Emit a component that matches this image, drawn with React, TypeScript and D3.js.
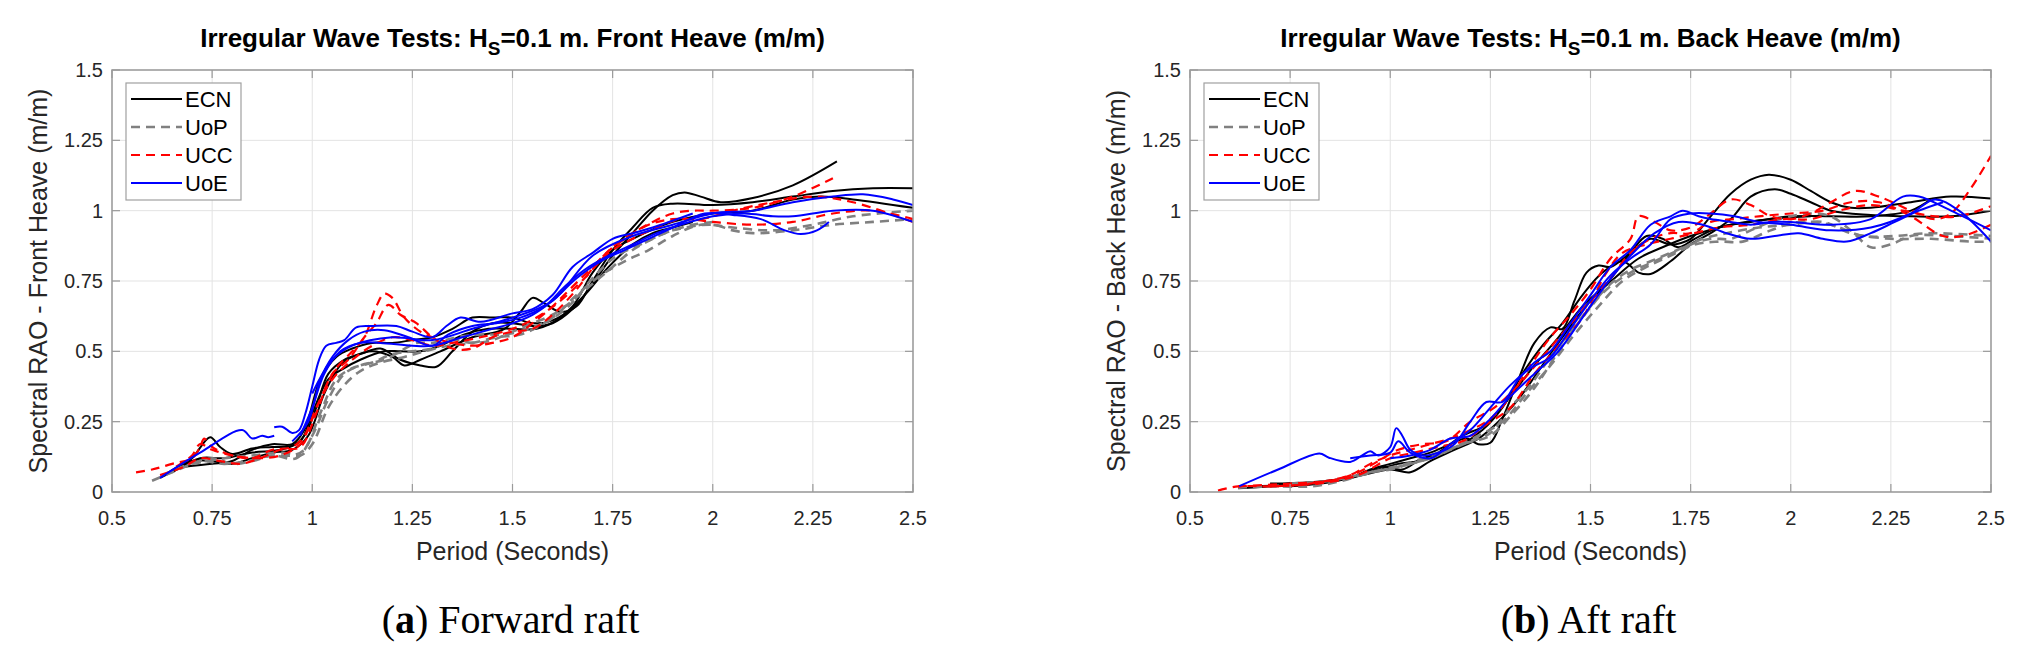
import React from "react"
import * as d3 from "d3"

type Pt = [number, number]

// axis ticks and legend
const xTicks = [0.5, 0.75, 1, 1.25, 1.5, 1.75, 2, 2.25, 2.5]
const yTicks = [0, 0.25, 0.5, 0.75, 1, 1.25, 1.5]
const legendLabels = ["ECN", "UoP", "UCC", "UoE"]

// Front heave (forward raft), one array per test run
const frontECN: Pt[][] = [
  [[0.62,0.05],[0.66,0.08],[0.7,0.12],[0.745,0.195],[0.77,0.16],[0.8,0.135],[0.85,0.155],[0.9,0.16],[0.95,0.165],[0.98,0.2],[1.01,0.3],[1.04,0.42],[1.08,0.47],[1.12,0.49],[1.17,0.51],[1.22,0.47],[1.27,0.45],[1.31,0.445],[1.35,0.5],[1.4,0.57],[1.45,0.6],[1.5,0.6],[1.55,0.59],[1.6,0.6],[1.65,0.65],[1.7,0.74],[1.75,0.84],[1.8,0.92],[1.85,1.0],[1.9,1.055],[1.93,1.065],[1.97,1.05],[2.02,1.03],[2.1,1.045],[2.2,1.09],[2.31,1.175]],
  [[0.63,0.06],[0.7,0.11],[0.75,0.11],[0.8,0.1],[0.85,0.12],[0.9,0.14],[0.95,0.15],[0.99,0.2],[1.03,0.35],[1.07,0.45],[1.1,0.48],[1.15,0.5],[1.2,0.48],[1.23,0.45],[1.27,0.47],[1.32,0.5],[1.4,0.55],[1.48,0.58],[1.52,0.64],[1.55,0.69],[1.58,0.67],[1.62,0.64],[1.66,0.66],[1.7,0.75],[1.75,0.86],[1.8,0.94],[1.85,1.01],[1.9,1.025],[2.0,1.02],[2.1,1.03],[2.2,1.05],[2.3,1.07],[2.4,1.08],[2.5,1.08]],
  [[0.68,0.09],[0.75,0.1],[0.8,0.11],[0.85,0.15],[0.9,0.17],[0.95,0.17],[0.98,0.22],[1.02,0.4],[1.06,0.48],[1.1,0.51],[1.15,0.53],[1.2,0.53],[1.25,0.54],[1.3,0.55],[1.35,0.58],[1.4,0.62],[1.45,0.62],[1.5,0.62],[1.55,0.6],[1.6,0.61],[1.65,0.66],[1.7,0.78],[1.75,0.86],[1.8,0.9],[1.9,0.96],[2.0,0.99],[2.1,1.0],[2.2,1.04],[2.27,1.05],[2.35,1.04],[2.5,1.01]],
  [[0.65,0.07],[0.72,0.12],[0.78,0.12],[0.85,0.14],[0.92,0.15],[0.97,0.18],[1.0,0.28],[1.04,0.4],[1.08,0.44],[1.12,0.47],[1.18,0.5],[1.22,0.5],[1.27,0.5],[1.32,0.52],[1.38,0.56],[1.44,0.58],[1.5,0.58],[1.56,0.58],[1.62,0.62],[1.68,0.7],[1.74,0.8],[1.8,0.88],[1.85,0.92],[1.9,0.94],[1.95,0.96]],
]
const frontUoP: Pt[][] = [
  [[0.6,0.04],[0.65,0.07],[0.7,0.1],[0.75,0.12],[0.8,0.1],[0.85,0.11],[0.9,0.13],[0.95,0.13],[0.98,0.15],[1.02,0.28],[1.06,0.4],[1.1,0.44],[1.15,0.46],[1.2,0.49],[1.25,0.5],[1.3,0.51],[1.35,0.54],[1.4,0.53],[1.45,0.54],[1.5,0.57],[1.55,0.6],[1.6,0.63],[1.65,0.68],[1.7,0.74],[1.75,0.8],[1.8,0.86],[1.85,0.9],[1.9,0.93],[2.0,0.95],[2.05,0.93],[2.1,0.92],[2.2,0.93],[2.3,0.95],[2.4,0.96],[2.5,0.97]],
  [[0.66,0.08],[0.72,0.11],[0.78,0.1],[0.84,0.11],[0.9,0.13],[0.96,0.12],[1.0,0.2],[1.04,0.33],[1.08,0.42],[1.12,0.45],[1.18,0.47],[1.22,0.5],[1.26,0.53],[1.3,0.53],[1.36,0.55],[1.42,0.56],[1.48,0.56],[1.54,0.58],[1.6,0.62],[1.66,0.7],[1.72,0.77],[1.78,0.82],[1.84,0.86],[1.9,0.91],[1.97,0.95],[2.05,0.94],[2.15,0.93],[2.25,0.95],[2.35,0.98],[2.5,1.0]],
  [[0.7,0.1],[0.78,0.12],[0.85,0.13],[0.92,0.14],[0.97,0.13],[1.0,0.17],[1.04,0.3],[1.08,0.38],[1.12,0.43],[1.17,0.46],[1.23,0.48],[1.28,0.5],[1.34,0.52],[1.4,0.53],[1.46,0.55],[1.52,0.56],[1.58,0.6],[1.64,0.66],[1.7,0.76],[1.76,0.84],[1.82,0.88],[1.88,0.92],[1.95,0.95],[2.0,0.96]],
]
const frontUCC: Pt[][] = [
  [[0.56,0.07],[0.6,0.08],[0.65,0.1],[0.7,0.12],[0.72,0.16],[0.73,0.19],[0.75,0.16],[0.8,0.13],[0.85,0.12],[0.9,0.15],[0.95,0.16],[0.98,0.2],[1.02,0.33],[1.06,0.44],[1.1,0.5],[1.13,0.55],[1.16,0.66],[1.18,0.705],[1.2,0.69],[1.23,0.62],[1.27,0.57],[1.3,0.55],[1.35,0.53],[1.4,0.52],[1.45,0.53],[1.5,0.55],[1.55,0.6],[1.6,0.66],[1.65,0.73],[1.7,0.8],[1.75,0.87],[1.8,0.92],[1.85,0.96],[1.9,0.99],[1.95,1.0],[2.0,1.0],[2.1,1.01],[2.2,1.05],[2.3,1.115]],
  [[0.62,0.06],[0.68,0.09],[0.72,0.12],[0.77,0.11],[0.82,0.1],[0.87,0.12],[0.92,0.15],[0.97,0.16],[1.01,0.28],[1.05,0.42],[1.09,0.47],[1.13,0.55],[1.16,0.6],[1.19,0.665],[1.22,0.63],[1.26,0.6],[1.3,0.55],[1.35,0.51],[1.4,0.51],[1.45,0.55],[1.5,0.57],[1.55,0.58],[1.6,0.63],[1.66,0.72],[1.72,0.83],[1.78,0.9],[1.84,0.95],[1.9,0.97],[1.97,0.97],[2.05,1.0],[2.15,1.03],[2.25,1.05],[2.35,1.03],[2.5,0.96]],
  [[0.66,0.09],[0.7,0.13],[0.72,0.17],[0.75,0.15],[0.8,0.13],[0.86,0.12],[0.92,0.13],[0.97,0.17],[1.01,0.3],[1.05,0.4],[1.1,0.47],[1.15,0.52],[1.2,0.55],[1.25,0.54],[1.3,0.52],[1.35,0.53],[1.42,0.55],[1.5,0.58],[1.56,0.62],[1.62,0.68],[1.68,0.76],[1.74,0.85],[1.8,0.9],[1.86,0.94],[1.92,0.97],[2.0,0.96],[2.1,0.95],[2.2,0.96],[2.3,0.99],[2.4,1.0],[2.5,0.97]],
]
const frontUoE: Pt[][] = [
  [[0.62,0.05],[0.72,0.14],[0.825,0.22],[0.85,0.19],[0.875,0.2],[0.89,0.195],[0.905,0.2]],
  [[0.905,0.23],[0.925,0.232],[0.95,0.21],[0.967,0.22],[0.983,0.28],[1.0,0.375],[1.017,0.47],[1.035,0.52],[1.06,0.53],[1.08,0.54],[1.11,0.585],[1.15,0.59],[1.21,0.59],[1.25,0.57],[1.3,0.55],[1.335,0.59],[1.37,0.62],[1.42,0.605],[1.5,0.635],[1.55,0.65],[1.6,0.7],[1.65,0.8],[1.7,0.85],[1.75,0.9],[1.8,0.92],[1.85,0.94],[1.95,0.99]],
  [[0.95,0.18],[0.99,0.25],[1.02,0.4],[1.05,0.48],[1.09,0.54],[1.13,0.57],[1.18,0.575],[1.24,0.55],[1.3,0.52],[1.34,0.56],[1.4,0.59],[1.46,0.6],[1.52,0.62],[1.58,0.66],[1.63,0.73],[1.68,0.79],[1.74,0.84],[1.8,0.88],[1.86,0.92],[1.92,0.95],[2.0,0.98],[2.08,0.99],[2.15,0.98],[2.2,0.98],[2.3,1.0],[2.4,1.0],[2.5,0.96]],
  [[0.97,0.2],[1.0,0.3],[1.03,0.42],[1.07,0.5],[1.12,0.53],[1.17,0.53],[1.25,0.52],[1.3,0.52],[1.375,0.55],[1.45,0.58],[1.5,0.6],[1.55,0.63],[1.6,0.68],[1.66,0.76],[1.72,0.82],[1.78,0.86],[1.84,0.9],[1.9,0.94],[1.98,0.99],[2.05,0.985],[2.12,0.97],[2.18,0.93],[2.22,0.917],[2.26,0.93],[2.29,0.96]],
  [[1.0,0.35],[1.05,0.47],[1.1,0.52],[1.2,0.55],[1.3,0.54],[1.4,0.58],[1.5,0.62],[1.6,0.68],[1.7,0.84],[1.8,0.91],[1.9,0.95],[2.0,0.99],[2.1,1.0],[2.2,1.03],[2.3,1.05],[2.375,1.058],[2.45,1.04],[2.5,1.02]],
]

// Back heave (aft raft)
const backECN: Pt[][] = [
  [[0.62,0.013],[0.7,0.02],[0.75,0.03],[0.8,0.03],[0.85,0.04],[0.9,0.05],[0.95,0.08],[1.0,0.1],[1.05,0.12],[1.1,0.14],[1.15,0.17],[1.19,0.19],[1.22,0.17],[1.25,0.175],[1.28,0.26],[1.32,0.4],[1.36,0.53],[1.4,0.585],[1.43,0.58],[1.46,0.68],[1.49,0.78],[1.52,0.805],[1.55,0.8],[1.6,0.85],[1.65,0.9],[1.7,0.88],[1.75,0.9],[1.8,0.98],[1.85,1.06],[1.9,1.11],[1.945,1.128],[2.0,1.11],[2.05,1.07],[2.1,1.03],[2.15,1.01],[2.2,1.01],[2.3,1.03],[2.4,1.05],[2.5,1.043]],
  [[0.65,0.02],[0.75,0.025],[0.85,0.04],[0.92,0.06],[0.98,0.09],[1.03,0.08],[1.08,0.12],[1.13,0.14],[1.18,0.17],[1.23,0.22],[1.28,0.3],[1.33,0.42],[1.38,0.52],[1.43,0.6],[1.48,0.7],[1.53,0.78],[1.58,0.82],[1.62,0.78],[1.65,0.775],[1.7,0.82],[1.75,0.88],[1.8,0.92],[1.85,0.97],[1.9,1.05],[1.96,1.076],[2.0,1.06],[2.05,1.03],[2.1,1.0],[2.2,0.985],[2.3,0.98],[2.4,0.98],[2.5,1.0]],
  [[0.7,0.03],[0.8,0.035],[0.9,0.05],[0.97,0.08],[1.02,0.1],[1.07,0.11],[1.12,0.14],[1.18,0.2],[1.24,0.24],[1.3,0.34],[1.36,0.45],[1.42,0.55],[1.48,0.66],[1.54,0.74],[1.6,0.85],[1.64,0.91],[1.68,0.9],[1.72,0.87],[1.76,0.9],[1.82,0.94],[1.9,0.96],[2.0,0.98],[2.1,0.98],[2.2,0.98],[2.3,1.0],[2.35,1.04]],
  [[0.75,0.02],[0.85,0.035],[0.93,0.06],[1.0,0.08],[1.05,0.07],[1.1,0.11],[1.16,0.15],[1.22,0.19],[1.27,0.25],[1.32,0.33],[1.38,0.45],[1.44,0.57],[1.5,0.68],[1.56,0.76],[1.62,0.83],[1.68,0.87],[1.75,0.91],[1.85,0.95],[1.95,0.97],[2.05,0.98]],
]
const backUoP: Pt[][] = [
  [[0.62,0.015],[0.7,0.02],[0.8,0.02],[0.88,0.04],[0.95,0.07],[1.0,0.08],[1.05,0.1],[1.1,0.12],[1.15,0.15],[1.2,0.18],[1.25,0.21],[1.3,0.3],[1.35,0.38],[1.4,0.48],[1.45,0.57],[1.5,0.66],[1.55,0.74],[1.6,0.79],[1.65,0.82],[1.7,0.85],[1.75,0.88],[1.8,0.9],[1.85,0.9],[1.9,0.93],[1.95,0.96],[2.0,0.98],[2.05,0.99],[2.1,0.98],[2.15,0.93],[2.2,0.87],[2.25,0.88],[2.3,0.91],[2.4,0.91],[2.5,0.9]],
  [[0.7,0.02],[0.8,0.03],[0.9,0.05],[0.98,0.08],[1.04,0.1],[1.1,0.13],[1.16,0.16],[1.22,0.2],[1.28,0.25],[1.34,0.35],[1.4,0.45],[1.46,0.56],[1.52,0.66],[1.58,0.75],[1.64,0.8],[1.7,0.84],[1.76,0.88],[1.82,0.89],[1.88,0.89],[1.95,0.93],[2.02,0.96],[2.1,0.95],[2.18,0.91],[2.26,0.91],[2.35,0.92],[2.5,0.91]],
  [[0.75,0.03],[0.85,0.04],[0.95,0.07],[1.02,0.09],[1.1,0.12],[1.18,0.17],[1.25,0.2],[1.3,0.27],[1.36,0.37],[1.42,0.5],[1.48,0.62],[1.54,0.72],[1.6,0.78],[1.66,0.82],[1.72,0.86],[1.78,0.9],[1.84,0.92],[1.92,0.94],[2.0,0.95],[2.08,0.96],[2.15,0.92],[2.25,0.9],[2.35,0.9],[2.45,0.89],[2.5,0.89]],
]
const backUCC: Pt[][] = [
  [[0.57,0.005],[0.62,0.02],[0.7,0.02],[0.8,0.03],[0.9,0.06],[0.95,0.1],[1.0,0.13],[1.05,0.15],[1.1,0.17],[1.15,0.19],[1.2,0.22],[1.25,0.26],[1.3,0.34],[1.35,0.45],[1.4,0.55],[1.45,0.63],[1.5,0.72],[1.55,0.83],[1.6,0.9],[1.62,0.98],[1.66,0.96],[1.7,0.93],[1.75,0.94],[1.8,0.99],[1.85,1.04],[1.9,1.02],[1.95,0.98],[2.0,0.97],[2.05,0.99],[2.1,1.03],[2.16,1.07],[2.22,1.05],[2.3,1.0],[2.36,0.97],[2.4,0.99],[2.45,1.08],[2.5,1.195]],
  [[0.62,0.02],[0.75,0.03],[0.85,0.04],[0.92,0.07],[0.97,0.11],[1.02,0.15],[1.08,0.17],[1.14,0.18],[1.2,0.25],[1.26,0.3],[1.32,0.38],[1.38,0.48],[1.44,0.58],[1.5,0.68],[1.55,0.76],[1.6,0.85],[1.65,0.9],[1.7,0.92],[1.75,0.92],[1.8,0.96],[1.86,0.97],[1.92,0.98],[2.0,0.99],[2.08,1.0],[2.15,1.03],[2.22,1.03],[2.3,0.98],[2.38,0.91],[2.43,0.91],[2.5,0.95]],
  [[0.7,0.02],[0.82,0.03],[0.92,0.06],[1.0,0.12],[1.06,0.14],[1.12,0.16],[1.18,0.18],[1.24,0.24],[1.3,0.3],[1.36,0.42],[1.42,0.52],[1.48,0.62],[1.54,0.78],[1.58,0.85],[1.64,0.88],[1.7,0.9],[1.76,0.92],[1.82,0.94],[1.9,0.95],[1.98,0.97],[2.05,0.97],[2.12,1.0],[2.2,1.02],[2.28,1.0],[2.36,0.98],[2.42,0.98],[2.5,1.016]],
]
const backUoE: Pt[][] = [
  [[0.623,0.021],[0.72,0.08],[0.823,0.137],[0.847,0.122],[0.9,0.107],[0.93,0.13],[0.95,0.145],[0.97,0.13],[1.0,0.16],[1.015,0.227],[1.03,0.2],[1.05,0.15],[1.08,0.13],[1.12,0.14],[1.16,0.17],[1.2,0.25],[1.24,0.32],[1.28,0.32],[1.32,0.4],[1.36,0.46],[1.4,0.5],[1.45,0.6],[1.5,0.7],[1.55,0.8],[1.6,0.86],[1.65,0.95],[1.7,0.98],[1.73,1.0],[1.77,0.98],[1.8,0.97],[1.85,0.96],[1.9,0.95],[1.95,0.96],[2.0,0.96],[2.1,0.95],[2.2,0.97],[2.28,1.05],[2.32,1.05],[2.4,1.0],[2.5,0.93]],
  [[0.9,0.12],[0.95,0.13],[1.0,0.14],[1.02,0.18],[1.05,0.14],[1.1,0.12],[1.15,0.17],[1.2,0.22],[1.25,0.3],[1.3,0.38],[1.35,0.44],[1.4,0.48],[1.45,0.58],[1.5,0.68],[1.55,0.77],[1.6,0.83],[1.65,0.88],[1.7,0.97],[1.75,0.99],[1.8,0.99],[1.86,0.98],[1.92,0.96],[2.0,0.95],[2.1,0.93],[2.2,0.94],[2.3,0.99],[2.36,1.04],[2.42,1.0],[2.5,0.89]],
  [[1.0,0.12],[1.05,0.13],[1.1,0.15],[1.15,0.19],[1.2,0.2],[1.25,0.26],[1.3,0.34],[1.36,0.42],[1.42,0.5],[1.48,0.62],[1.54,0.74],[1.6,0.84],[1.66,0.92],[1.72,0.96],[1.78,0.95],[1.84,0.92],[1.9,0.9],[1.96,0.91],[2.02,0.92],[2.08,0.9],[2.14,0.89],[2.2,0.92],[2.26,0.96],[2.32,1.0],[2.38,1.03]],
]

const SERIES_STYLE: Record<string, { color: string; dash?: string; width: number }> = {
  ECN: { color: "#000000", width: 2 },
  UoP: { color: "#808080", dash: "9,6", width: 2.6 },
  UCC: { color: "#ff0000", dash: "9,6", width: 2.2 },
  UoE: { color: "#0000ff", width: 2 },
}

const W = 801
const H = 422
const TOP = 70
const FONT = "'Liberation Sans', Arial, sans-serif"

interface PanelProps {
  left: number
  heading: string
  ylabel: string
  letter: string
  caption: string
  runs: Pt[][][]
}

function Panel({ left, heading, ylabel, letter, caption, runs }: PanelProps) {
  const x = d3.scaleLinear().domain([0.5, 2.5]).range([0, W])
  const y = d3.scaleLinear().domain([0, 1.5]).range([H, 0])
  const line = d3
    .line<Pt>()
    .x((d) => x(d[0]))
    .y((d) => y(d[1]))
    .curve(d3.curveCatmullRom.alpha(0.5))
  const tick = 8

  return (
    <g transform={`translate(${left},${TOP})`}>
      <defs>
        <clipPath id={`clip-${letter}`}>
          <rect width={W} height={H} />
        </clipPath>
      </defs>
      <rect width={W} height={H} fill="#fff" />

      {/* grid */}
      {xTicks.map((t) => (
        <line key={`gx${t}`} x1={x(t)} x2={x(t)} y1={0} y2={H} stroke="#e3e3e3" strokeWidth={1} />
      ))}
      {yTicks.map((t) => (
        <line key={`gy${t}`} x1={0} x2={W} y1={y(t)} y2={y(t)} stroke="#e3e3e3" strokeWidth={1} />
      ))}

      {/* data */}
      <g clipPath={`url(#clip-${letter})`}>
        {runs.map((group, gi) => {
          const s = SERIES_STYLE[legendLabels[gi]]
          return group.map((run, ri) => (
            <path
              key={`${gi}-${ri}`}
              d={line(run) ?? ""}
              fill="none"
              stroke={s.color}
              strokeWidth={s.width}
              strokeDasharray={s.dash}
              strokeLinejoin="round"
            />
          ))
        })}
      </g>

      {/* frame and ticks */}
      <rect width={W} height={H} fill="none" stroke="#9a9a9a" strokeWidth={1.5} />
      {xTicks.map((t) => (
        <g key={`tx${t}`} stroke="#9a9a9a" strokeWidth={1.2}>
          <line x1={x(t)} x2={x(t)} y1={H} y2={H - tick} />
          <line x1={x(t)} x2={x(t)} y1={0} y2={tick} />
        </g>
      ))}
      {yTicks.map((t) => (
        <g key={`ty${t}`} stroke="#9a9a9a" strokeWidth={1.2}>
          <line x1={0} x2={tick} y1={y(t)} y2={y(t)} />
          <line x1={W} x2={W - tick} y1={y(t)} y2={y(t)} />
        </g>
      ))}

      {/* tick labels */}
      {xTicks.map((t) => (
        <text key={`lx${t}`} x={x(t)} y={H + 33} textAnchor="middle" fontFamily={FONT} fontSize={20} fill="#262626">
          {String(t)}
        </text>
      ))}
      {yTicks.map((t) => (
        <text key={`ly${t}`} x={-9} y={y(t) + 7} textAnchor="end" fontFamily={FONT} fontSize={20} fill="#262626">
          {String(t)}
        </text>
      ))}

      {/* axis labels */}
      <text x={W / 2} y={H + 68} textAnchor="middle" fontFamily={FONT} fontSize={25} fill="#262626">
        Period (Seconds)
      </text>
      <text
        transform={`translate(-65,${H / 2}) rotate(-90)`}
        textAnchor="middle"
        fontFamily={FONT}
        fontSize={25}
        fill="#262626"
      >
        {ylabel}
      </text>

      {/* title */}
      <text x={W / 2} y={-23} textAnchor="middle" fontFamily={FONT} fontSize={26} fontWeight="bold" fill="#000">
        Irregular Wave Tests: H
        <tspan fontSize={19} dy={8}>S</tspan>
        <tspan dy={-8}>{`=0.1 m. ${heading} (m/m)`}</tspan>
      </text>

      {/* legend */}
      <g transform="translate(14,13)">
        <rect width={115} height={117} fill="#fff" stroke="#a0a0a0" strokeWidth={1.2} />
        {legendLabels.map((lab, i) => {
          const s = SERIES_STYLE[lab]
          const cy = 16 + i * 28
          return (
            <g key={lab}>
              <line
                x1={5}
                x2={56}
                y1={cy}
                y2={cy}
                stroke={s.color}
                strokeWidth={s.width}
                strokeDasharray={s.dash}
              />
              <text x={59} y={cy + 8} fontFamily={FONT} fontSize={22} fill="#000">
                {lab}
              </text>
            </g>
          )
        })}
      </g>

      {/* caption */}
      <text
        x={W / 2 - 2}
        y={563}
        textAnchor="middle"
        fontFamily="'Liberation Serif', 'Times New Roman', serif"
        fontSize={40}
        fill="#000"
      >
        (<tspan fontWeight="bold">{letter}</tspan>) {caption}
      </text>
    </g>
  )
}

export default function App() {
  return (
    <svg
      width={2028}
      height={657}
      viewBox="0 0 2028 657"
      style={{ position: "absolute", left: 0, top: 0, background: "#fff" }}
    >
      <rect width={2028} height={657} fill="#fff" />
      <Panel
        left={112}
        heading="Front Heave"
        ylabel="Spectral RAO - Front Heave (m/m)"
        letter="a"
        caption="Forward raft"
        runs={[frontECN, frontUoP, frontUCC, frontUoE]}
      />
      <Panel
        left={1190}
        heading="Back Heave"
        ylabel="Spectral RAO - Back Heave (m/m)"
        letter="b"
        caption="Aft raft"
        runs={[backECN, backUoP, backUCC, backUoE]}
      />
    </svg>
  )
}
